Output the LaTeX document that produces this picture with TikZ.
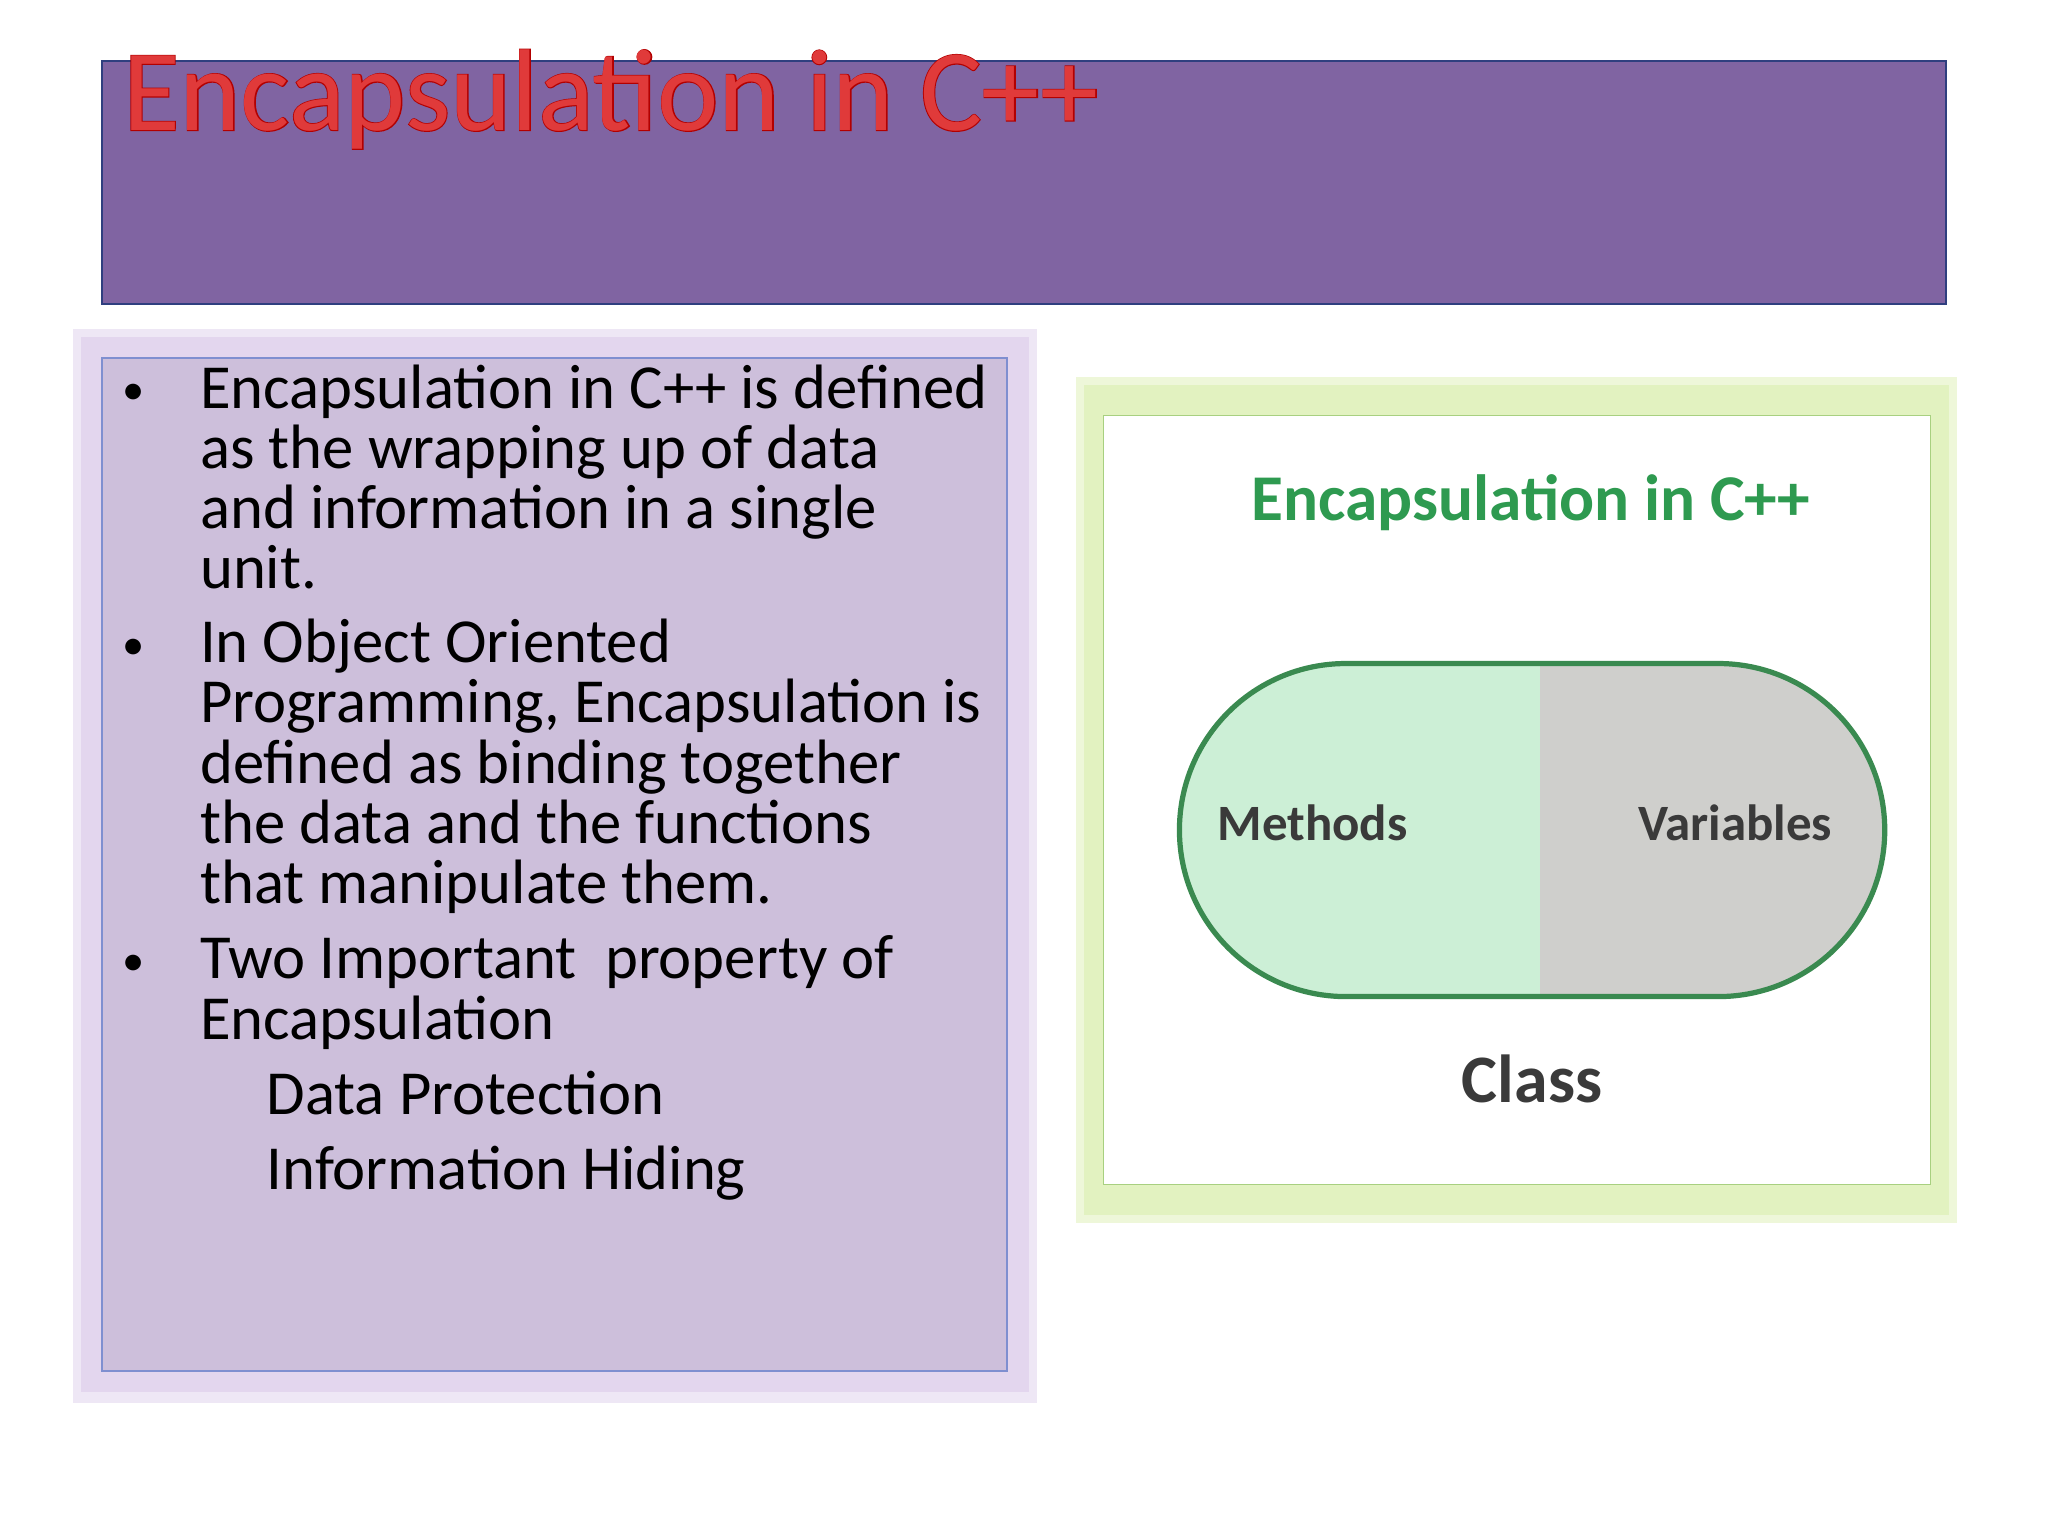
\documentclass[tikz,border=0pt]{standalone}
\usepackage{fontspec}
\setmainfont{Carlito}
\definecolor{hdr}{HTML}{8064A2}
\definecolor{hdrb}{HTML}{2F3F7F}
\definecolor{lpan}{HTML}{CDBFDB}
\definecolor{lglow}{HTML}{E3D6EE}
\definecolor{lbord}{HTML}{7F8FD0}
\definecolor{gglow}{HTML}{E2F2C0}
\definecolor{gbord}{HTML}{A8D080}
\definecolor{ttl}{HTML}{2E9A50}
\definecolor{mfill}{HTML}{CCEFD6}
\definecolor{vfill}{HTML}{CFCFCC}
\definecolor{pillb}{HTML}{3A8A50}
\definecolor{dtext}{HTML}{3A3A3A}
\definecolor{tred}{HTML}{E03A3A}
\tikzset{
 body/.style={anchor=west,inner sep=0,text height=30,text depth=9,font=\fontsize{48}{46}\selectfont},
 bul/.style={anchor=center,inner sep=0,font=\fontsize{34}{40}\selectfont},
 lbl/.style={inner sep=0,text=dtext,font=\fontsize{39}{40}\selectfont\bfseries}
}
\begin{document}
\begin{tikzpicture}[x=1pt,y=-1pt]
\useasboundingbox (0,0) rectangle (1568,1176);
\fill[white] (0,0) rectangle (1568,1176);
% header
\draw[hdrb,fill=hdr,line width=1.5] (78,47) rectangle (1490,233);
\node[anchor=west,inner sep=0,font=\fontsize{89}{89}\selectfont] (title) at (94,76) {\addfontfeature{FakeBold=1.5}\textcolor{red!70!black}{Encapsulation in C++}};
\node[anchor=west,inner sep=0,font=\fontsize{89}{89}\selectfont] (title2) at (94,76) {\textcolor{tred}{Encapsulation in C++}};
% left panel
\fill[lglow!60] (56,252) rectangle (794,1074);
\fill[lglow] (62,258) rectangle (788,1066);
\draw[lbord,fill=lpan,line width=1.5] (78,274) rectangle (771,1050);
\node[bul] (b1) at (102,302) {•};
\node[body] (l1) at (153,302) {Encapsulation in C++ is defined};
\node[body] (l2) at (153,348) {as the wrapping up of data};
\node[body] (l3) at (153,394) {and information in a single};
\node[body] (l4) at (153,440) {unit.};
\node[bul] (b2) at (102,497) {•};
\node[body] (l5) at (153,497) {In Object Oriented};
\node[body] (l6) at (153,543) {Programming, Encapsulation is};
\node[body] (l7) at (153,589) {defined as binding together};
\node[body] (l8) at (153,635) {the data and the functions};
\node[body] (l9) at (153,681) {that manipulate them.};
\node[bul] (b3) at (102,739) {•};
\node[body] (l10) at (153,739) {Two Important\ \ property of};
\node[body] (l11) at (153,785) {Encapsulation};
\node[body] (s1) at (204,843) {Data Protection};
\node[body] (s2) at (204,900) {Information Hiding};
% right panel
\fill[gglow!60] (824,289) rectangle (1498,936);
\fill[gglow] (830,295) rectangle (1492,930);
\draw[gbord,fill=white,line width=1] (845,318) rectangle (1478,907);
\node[inner sep=0,text=ttl,font=\fontsize{50}{54}\selectfont\bfseries] (rt) at (1172,385) {Encapsulation in C++};
\begin{scope}
\clip[rounded corners=127.5] (903,508) rectangle (1443,763);
\fill[mfill] (900,500) rectangle (1179,770);
\fill[vfill] (1179,500) rectangle (1450,770);
\end{scope}
\draw[pillb,line width=4,rounded corners=127.5] (903,508) rectangle (1443,763);
\node[lbl,anchor=west] (meth) at (932,630) {Methods};
\node[lbl,anchor=east] (vars) at (1403,630) {Variables};
\node[lbl,font=\fontsize{52}{56}\selectfont\bfseries] (cls) at (1173,826) {Class};
\end{tikzpicture}
\end{document}
